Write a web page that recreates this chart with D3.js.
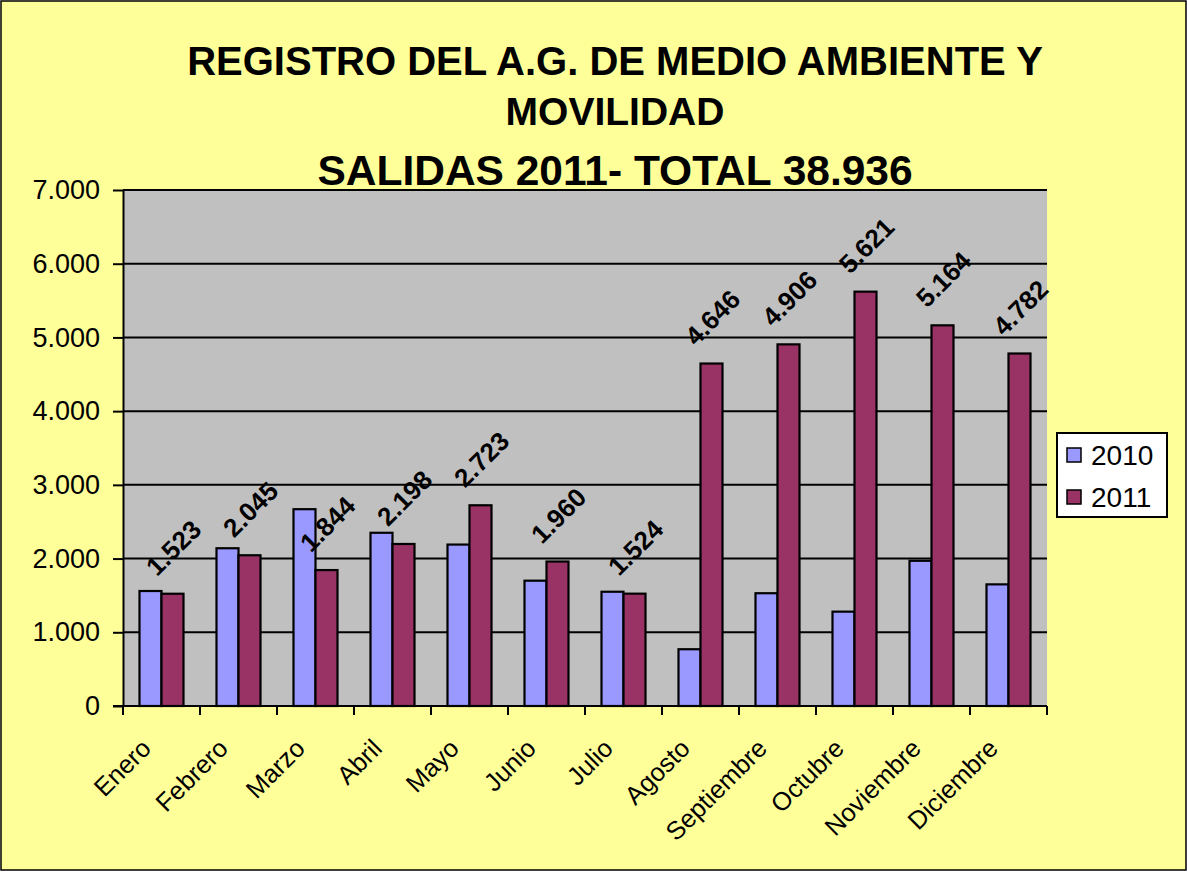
<!DOCTYPE html>
<html>
<head>
<meta charset="utf-8">
<script src="https://cdn.jsdelivr.net/npm/d3@7"></script>
<style>
  body { margin: 0; background: #fff; }
  svg { display: block; font-family: "Liberation Sans", Arial, sans-serif; }
</style>
</head>
<body>
<div id="chart"></div>
<script>
// data
var months = ["Enero", "Febrero", "Marzo", "Abril", "Mayo", "Junio", "Julio",
  "Agosto", "Septiembre", "Octubre", "Noviembre", "Diciembre"];
var seriesNames = ["2010", "2011"];
var values2010 = [1560, 2140, 2670, 2350, 2190, 1700, 1550, 770, 1530, 1280, 1970, 1650];
var values2011 = [1523, 2045, 1844, 2198, 2723, 1960, 1524, 4646, 4906, 5621, 5164, 4782];
var yTicks = [0, 1000, 2000, 3000, 4000, 5000, 6000, 7000];
var titleLines = ["REGISTRO DEL A.G. DE MEDIO AMBIENTE Y", "MOVILIDAD", "SALIDAS 2011- TOTAL 38.936"];

var colors = { "2010": "#9999FF", "2011": "#993366" };

var W = 1187, H = 872;
var margin = { top: 190, right: 140, bottom: 166, left: 123 },
    width = W - margin.left - margin.right,
    height = H - margin.top - margin.bottom;

var locale = d3.formatLocale({ decimal: ",", thousands: ".", grouping: [3], currency: ["", ""] });
var fmt = locale.format(",d");

var svg = d3.select("#chart").append("svg")
    .attr("width", W)
    .attr("height", H);

// background + outer border
svg.append("rect")
    .attr("x", 1).attr("y", 1)
    .attr("width", W - 2).attr("height", H - 3)
    .attr("fill", "#FFFF99")
    .attr("stroke", "#000")
    .attr("stroke-width", 1.5);

// title
var titleSizes = [40, 39, 42.5], titleY = [75, 125, 185];
svg.selectAll("text.title")
    .data(titleLines)
    .enter()
    .append("text")
    .attr("class", "title")
    .attr("x", 615)
    .attr("y", function (d, i) { return titleY[i]; })
    .attr("text-anchor", "middle")
    .style("font-weight", "bold")
    .style("font-size", function (d, i) { return titleSizes[i] + "px"; })
    .text(function (d) { return d; });

var g = svg.append("g")
    .attr("transform", "translate(" + margin.left + "," + margin.top + ")");

// plot area
g.append("rect")
    .attr("width", width)
    .attr("height", height)
    .attr("fill", "#C0C0C0");

var x0 = d3.scaleBand()
    .domain(months)
    .range([0, width])
    .paddingInner(33 / 77)
    .paddingOuter(16.5 / 77);

var x1 = d3.scaleBand()
    .domain(seriesNames)
    .range([0, x0.bandwidth()]);

var y = d3.scaleLinear()
    .domain([0, 7000])
    .range([height, 0]);

// gridlines
g.append("g")
    .selectAll("line")
    .data(yTicks.slice(1))
    .enter()
    .append("line")
    .attr("x1", 0).attr("x2", width)
    .attr("y1", function (d) { return y(d); })
    .attr("y2", function (d) { return y(d); })
    .attr("stroke", "#000")
    .attr("stroke-width", 2);

// bars
var rows = months.map(function (m, i) {
    return { month: m, vals: [{ s: "2010", v: values2010[i] }, { s: "2011", v: values2011[i] }] };
});

var groups = g.append("g")
    .selectAll("g")
    .data(rows)
    .enter()
    .append("g")
    .attr("transform", function (d) { return "translate(" + x0(d.month) + ",0)"; });

groups.selectAll("rect")
    .data(function (d) { return d.vals; })
    .enter()
    .append("rect")
    .attr("x", function (d) { return x1(d.s); })
    .attr("y", function (d) { return y(d.v); })
    .attr("width", x1.bandwidth())
    .attr("height", function (d) { return height - y(d.v); })
    .attr("fill", function (d) { return colors[d.s]; })
    .attr("stroke", "#000")
    .attr("stroke-width", 2.2);

// data labels for 2011
g.append("g")
    .selectAll("text")
    .data(rows)
    .enter()
    .append("text")
    .attr("transform", function (d, i) {
        var cx = x0(d.month) + x1("2011") + x1.bandwidth() / 2 + 1;
        var cy = y(values2011[i]) - 46;
        return "translate(" + cx + "," + cy + ") rotate(-45)";
    })
    .attr("text-anchor", "middle")
    .attr("dy", "0.35em")
    .style("font-weight", "bold")
    .style("font-size", "26px")
    .text(function (d, i) { return fmt(values2011[i]); });

// y axis
var yAxis = g.append("g")
    .call(d3.axisLeft(y).tickValues(yTicks).tickSize(10).tickSizeOuter(0).tickPadding(13).tickFormat(fmt));
yAxis.selectAll("path, line").attr("stroke", "#000").attr("stroke-width", 2);
yAxis.selectAll("text")
    .style("font-size", "27px")
    .style("font-family", "'Liberation Sans', Arial, sans-serif")
    .attr("fill", "#000");

// x axis: ticks at category boundaries
var xAxis = g.append("g").attr("transform", "translate(0," + height + ")");
xAxis.append("line")
    .attr("x1", -10).attr("x2", width)
    .attr("stroke", "#000").attr("stroke-width", 2);
xAxis.selectAll("line.tick")
    .data(months.concat(["end"]))
    .enter()
    .append("line")
    .attr("class", "tick")
    .attr("x1", function (d, i) { return i * x0.step(); })
    .attr("x2", function (d, i) { return i * x0.step(); })
    .attr("y1", 0).attr("y2", 9)
    .attr("stroke", "#000").attr("stroke-width", 2);
xAxis.selectAll("text")
    .data(months)
    .enter()
    .append("text")
    .attr("transform", function (d) {
        var cx = x0(d) + x0.bandwidth() / 2 - 9;
        return "translate(" + cx + ",44) rotate(-45)";
    })
    .attr("text-anchor", "end")
    .style("font-size", "25.5px")
    .text(function (d) { return d; });

// legend
var legend = svg.append("g").attr("transform", "translate(1057,433)");
legend.append("rect")
    .attr("width", 110).attr("height", 84)
    .attr("fill", "#fff")
    .attr("stroke", "#000").attr("stroke-width", 2);
var li = legend.selectAll("g")
    .data(seriesNames)
    .enter()
    .append("g")
    .attr("transform", function (d, i) { return "translate(10," + (15 + i * 42) + ")"; });
li.append("rect")
    .attr("width", 14).attr("height", 14)
    .attr("fill", function (d) { return colors[d]; })
    .attr("stroke", "#000").attr("stroke-width", 1.5);
li.append("text")
    .attr("x", 24).attr("y", 17)
    .style("font-size", "28px")
    .text(function (d) { return d; });
</script>
</body>
</html>
